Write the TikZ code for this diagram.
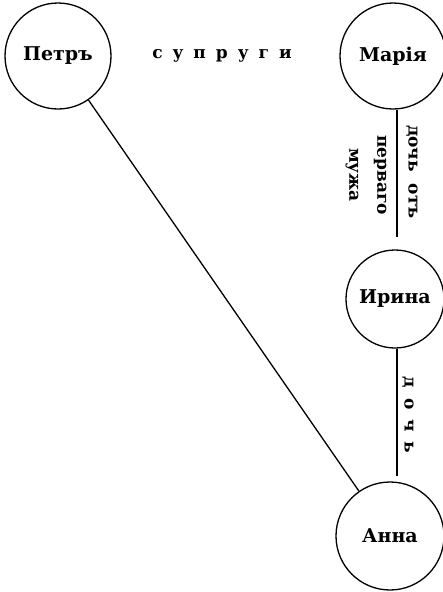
\documentclass[tikz,border=0pt]{standalone}
\usepackage{fontspec}
\setmainfont{DejaVu Serif}
\def\gap{\hspace{10pt}}

\begin{document}
\begin{tikzpicture}[
  x=1pt, y=-1pt, line width=1.3pt,
  person/.style={circle,draw,minimum size=106pt,inner sep=0pt,font=\bfseries\fontsize{19}{22}\selectfont},
  rel/.style={font=\bfseries\fontsize{17}{28}\selectfont,align=center}
]
  \useasboundingbox (0,0) rectangle (442,592);
  \node[person] (petr) at (58,56) {Петръ};
  \node[person] (maria) at (393,56) {Марія};
  \node[person,minimum size=98pt] (irina) at (395,299) {Ирина};
  \node[person,minimum size=108pt] (anna) at (390,536) {Анна};
  \draw (petr) -- (anna);
  \draw[shorten >=12pt] (maria.south -| 397,0) -- (irina.north -| 397,0);
  \draw[shorten >=5pt] (irina.south -| 397,0) -- (anna.north -| 397,0);
  \node[rel] (spouses) at (222,56) {с\gap у\gap п\gap р\gap у\gap г\gap и};
  \node[rel,rotate=-90] (daughter1) at (412,172) {дочь\ \ отъ};
  \node[rel,rotate=-90] (firsthusb) at (366,175) {перваго\\мужа};
  \node[rel,rotate=-90] (daughter2) at (408,415) {д\gap о\gap ч\gap ь};
\end{tikzpicture}
\end{document}
